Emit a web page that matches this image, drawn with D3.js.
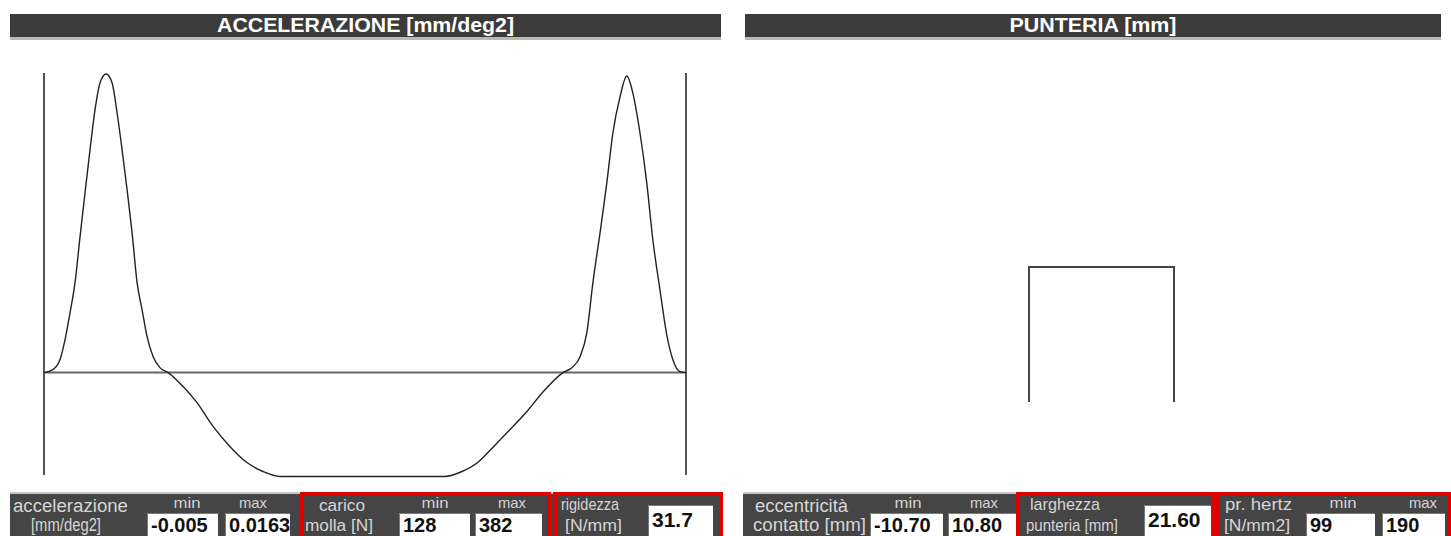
<!DOCTYPE html>
<html><head><meta charset="utf-8">
<script src="https://cdn.jsdelivr.net/npm/d3@7"></script>
<style>html,body{margin:0;padding:0;background:#fff;overflow:hidden}svg{display:block}</style>
</head><body>
<svg id="c" width="1451" height="536"></svg>
<script>
// ---- data ----
const titles = ["ACCELERAZIONE [mm/deg2]", "PUNTERIA [mm]"];
const angleDeg = [0,2.5,4.5,5.9,7.3,8.7,10.1,11.5,12.9,14.3,15.7,17.4,19.1,20.5,21.9,23.3,24.7,26.1,27.5,28.9,30.6,32.5,34.8,39.0,42.9,47.4,52.1,56.9,61.4,66.2,112.4,117.2,121.6,126.1,130.6,135.4,139.9,145.5,148.0,150.3,152.2,153.9,155.9,157.8,159.5,161.5,163.4,165.1,167.1,169.0,170.7,172.7,174.7,176.3,178.3,180];
const accel = [0,0.00016,0.00071,0.0018,0.00327,0.00491,0.00741,0.00981,0.01216,0.01434,0.01581,0.0163,0.01581,0.01417,0.01216,0.00998,0.00763,0.00491,0.00343,0.00196,0.00087,0.00027,0,-0.00076,-0.00164,-0.00294,-0.00403,-0.00491,-0.0054,-0.00567,-0.00567,-0.0054,-0.00491,-0.00403,-0.00312,-0.00212,-0.00106,0,0.00027,0.00087,0.00218,0.00491,0.00763,0.01036,0.01308,0.01505,0.01619,0.01526,0.01308,0.01036,0.00725,0.00452,0.00196,0.00071,0.00005,0];
const punteriaX = [-10.8, -10.8, 10.8, 10.8];
const punteriaY = [0, 20, 20, 0];
const accelMinMax = ["-0.005", "0.0163"];
const caricoMolla = ["128", "382"];
const rigidezza = ["31.7"];
const eccentricita = ["-10.70", "10.80"];
const larghezza = ["21.60"];
const prHertz = ["99", "190"];

// ---- drawing ----
const svg = d3.select("#c");
const NARROW = "'Liberation Sans Narrow','Arial Narrow','Liberation Sans',Arial,sans-serif";
const defs = svg.append("defs");

// header bars
const headers = [{x0:10,x1:721,t:titles[0],w:297},{x0:745,x1:1441,t:titles[1],w:167}];
headers.forEach(h=>{
  svg.append("rect").attr("x",h.x0).attr("y",37).attr("width",h.x1-h.x0).attr("height",3).attr("fill","#b8b8b8");
  svg.append("rect").attr("x",h.x0).attr("y",14).attr("width",h.x1-h.x0).attr("height",23).attr("fill","#3b3b3b");
  svg.append("text").attr("x",(h.x0+h.x1)/2).attr("y",32).attr("text-anchor","middle")
    .attr("fill","#fff").attr("font-family",NARROW).attr("font-weight","bold").attr("font-size",20)
    .attr("textLength",h.w).attr("lengthAdjust","spacingAndGlyphs").text(h.t);
});

// acceleration chart
const xA = d3.scaleLinear().domain([0,180]).range([44,686]);
const yA = d3.scaleLinear().domain([-0.0057,0.0163]).range([477,74]);
const gA = svg.append("g");
[0,180].forEach(a=>{
  gA.append("line").attr("x1",xA(a)).attr("x2",xA(a)).attr("y1",73).attr("y2",475)
    .attr("stroke","#555").attr("stroke-width",2);
});
gA.append("line").attr("x1",xA(0)).attr("x2",xA(180)).attr("y1",yA(0)).attr("y2",yA(0))
  .attr("stroke","#666").attr("stroke-width",2);
const pts = angleDeg.map((a,i)=>[a,accel[i]]);
gA.append("path").datum(pts)
  .attr("d", d3.line().x(d=>xA(d[0])).y(d=>yA(d[1])).curve(d3.curveMonotoneX))
  .attr("fill","none").attr("stroke","#222").attr("stroke-width",1.4);

// punteria chart
const xP = d3.scaleLinear().domain([-10.8,10.8]).range([1029,1174]);
const yP = d3.scaleLinear().domain([0,20]).range([402,267]);
svg.append("path").datum(punteriaX.map((x,i)=>[x,punteriaY[i]]))
  .attr("d", d3.line().x(d=>xP(d[0])).y(d=>yP(d[1])))
  .attr("fill","none").attr("stroke","#444").attr("stroke-width",2);

// bottom panels
[[10,721],[743,1451]].forEach(p=>{
  svg.append("rect").attr("x",p[0]).attr("y",492).attr("width",p[1]-p[0]).attr("height",2).attr("fill","#c8c8c8");
  svg.append("rect").attr("x",p[0]).attr("y",494).attr("width",p[1]-p[0]).attr("height",50).attr("fill","#454545");
});

function label(x,y,t,size,w,anchor){
  const el = svg.append("text").attr("x",x).attr("y",y).attr("fill","#d6d6d6")
    .attr("font-family",NARROW).attr("font-size",size).attr("text-anchor",anchor||"start").text(t);
  if(w) el.attr("textLength",w).attr("lengthAdjust","spacingAndGlyphs");
}
let clipId=0;
function box(x0,x1,y0,val,size,base){
  const id="cl"+(clipId++);
  defs.append("clipPath").attr("id",id).append("rect").attr("x",x0).attr("y",y0).attr("width",x1-x0).attr("height",60);
  svg.append("rect").attr("x",x0).attr("y",y0).attr("width",x1-x0).attr("height",60).attr("fill","#fff");
  svg.append("path").attr("d",`M${x0+0.5},${y0+60}V${y0+0.5}H${x1}`).attr("fill","none").attr("stroke","#7a7a7a").attr("stroke-width",1);
  svg.append("text").attr("clip-path",`url(#${id})`).attr("x",x0+4).attr("y",base)
    .attr("fill","#111").attr("font-family","'Liberation Sans',Arial,sans-serif").attr("font-weight","bold")
    .attr("font-size",size).text(val);
}
function redBox(x0,x1){
  svg.append("rect").attr("x",x0+2).attr("y",494).attr("width",x1-x0-4).attr("height",60)
    .attr("fill","none").attr("stroke","#e10000").attr("stroke-width",4);
}

// left panel
label(13,512,"accelerazione",18,115);
label(31,531,"[mm/deg2]",18,70);
label(187,508,"min",15,27,"middle");
label(253,508,"max",15,28,"middle");
box(147,218,513,accelMinMax[0],20,532);
box(225,290,513,accelMinMax[1],20,532);
label(319,511,"carico",16,46);
label(305,531,"molla [N]",16,68);
label(435,508,"min",15,27,"middle");
label(512,508,"max",15,28,"middle");
box(399,470,513,caricoMolla[0],20,532);
box(475,542,513,caricoMolla[1],20,532);
label(561,510,"rigidezza",17,58);
label(565,531,"[N/mm]",16,57);
box(648,713,505,rigidezza[0],21,527);
redBox(300,551);
redBox(553,723);

// right panel
label(755,512,"eccentricità",18,93);
label(753,531,"contatto [mm]",18,113);
label(908,508,"min",15,27,"middle");
label(984,508,"max",15,28,"middle");
box(870,943,513,eccentricita[0],20,532);
box(948,1016,513,eccentricita[1],20,532);
label(1030,510,"larghezza",17,70);
label(1026,531,"punteria [mm]",17,92);
box(1144,1211,505,larghezza[0],21,527);
label(1225,510,"pr. hertz",16,67);
label(1224,531,"[N/mm2]",16,66);
label(1343,508,"min",15,27,"middle");
label(1423,508,"max",15,28,"middle");
box(1306,1375,513,prHertz[0],20,532);
box(1382,1445,513,prHertz[1],20,532);
redBox(1016,1216);
redBox(1216,1451);
</script>
</body></html>
